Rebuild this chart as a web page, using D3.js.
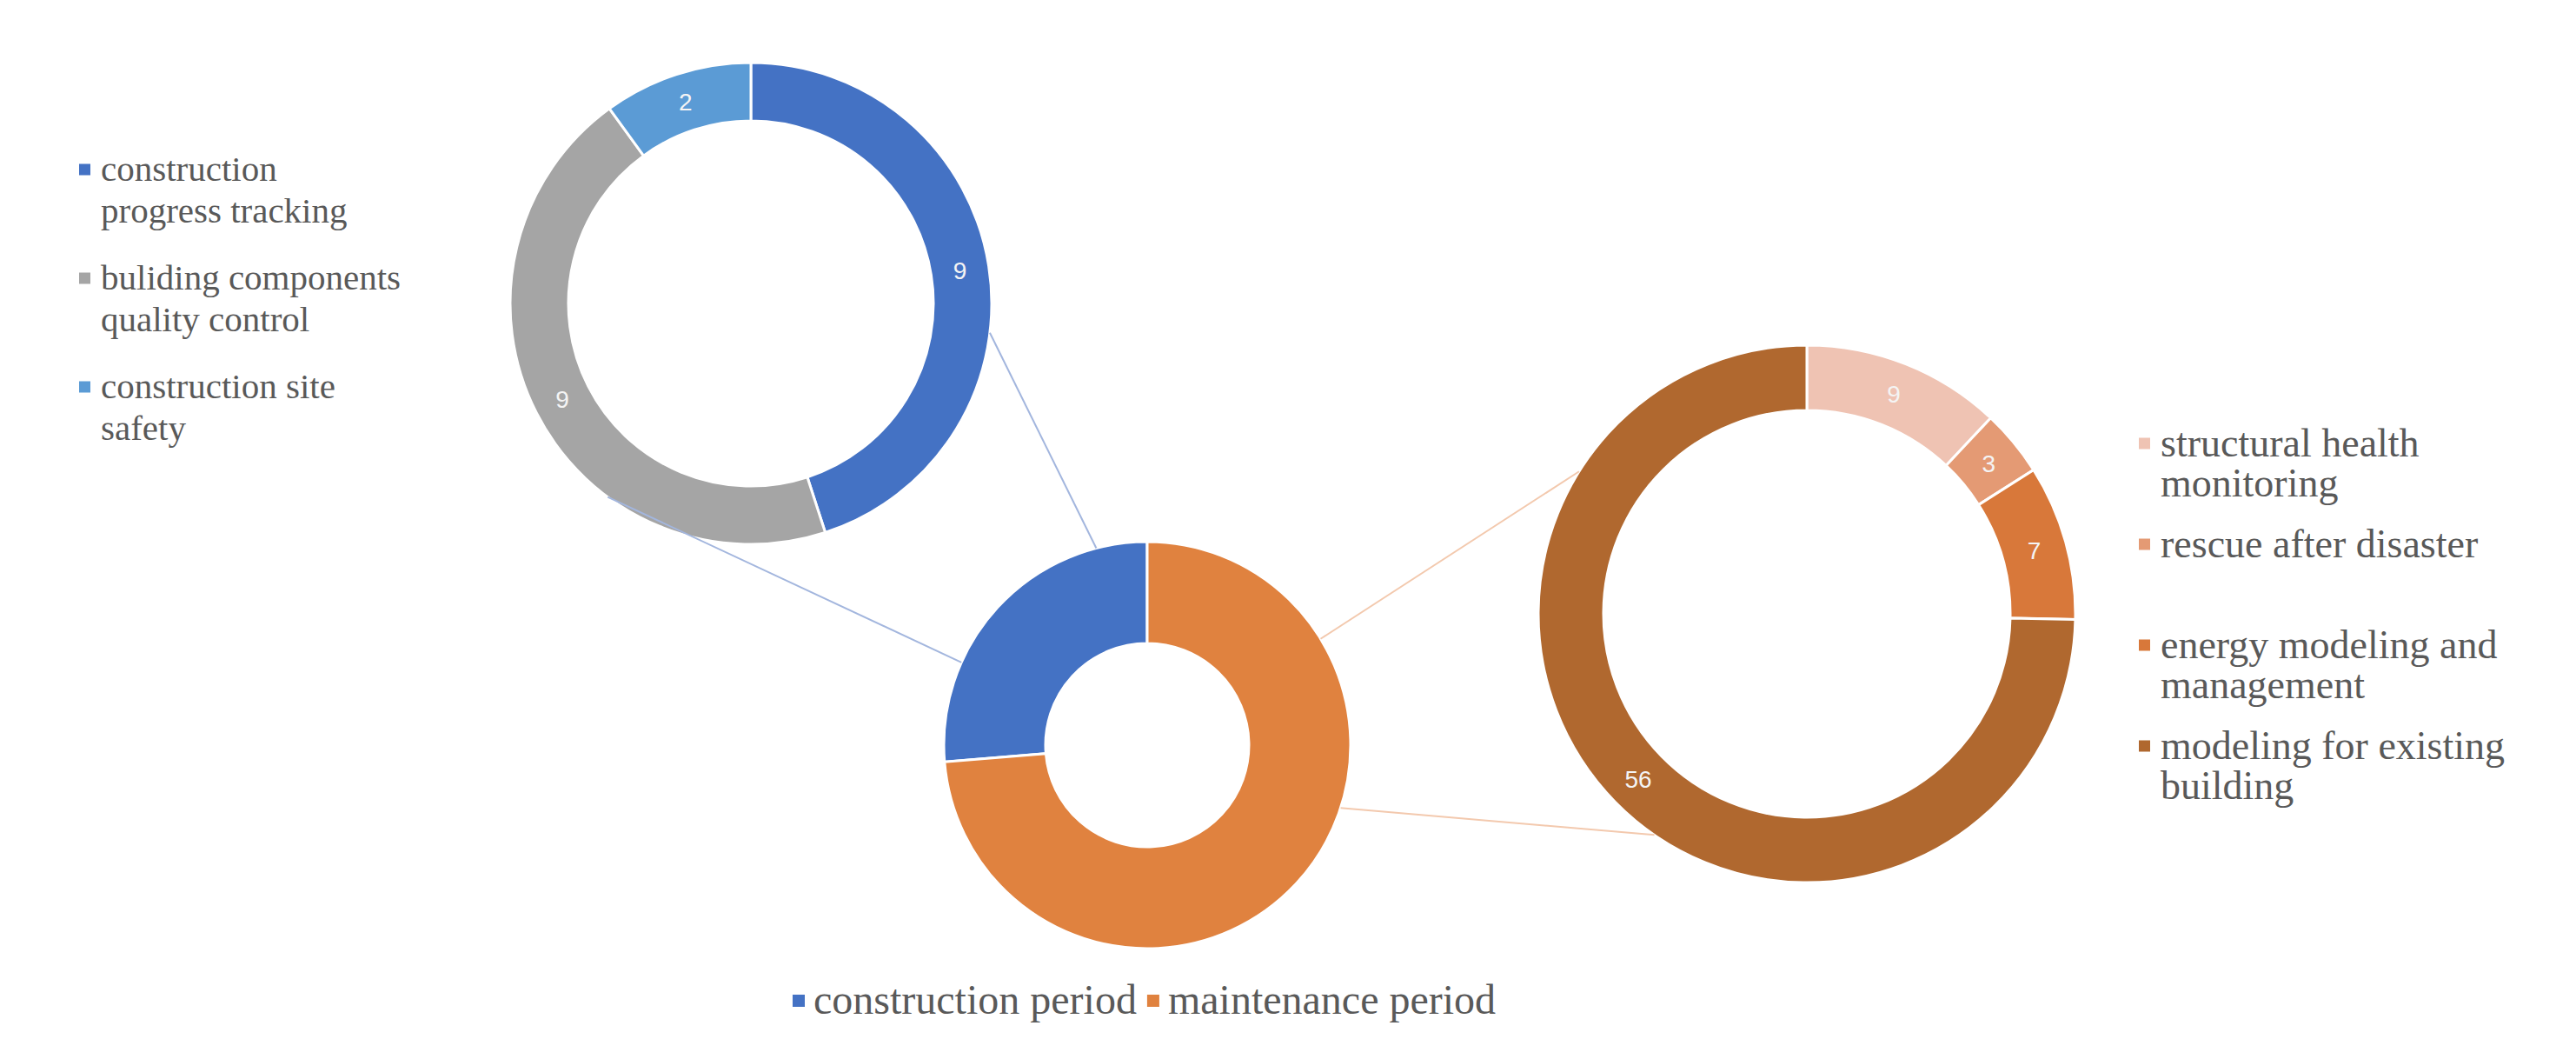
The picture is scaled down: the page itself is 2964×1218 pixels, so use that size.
<!doctype html>
<html lang="en">
<head>
<meta charset="utf-8" />
<title>Construction and maintenance period applications</title>
<style>
  html, body { margin: 0; padding: 0; background: #fff; }
  svg { display: block; }
  .legend text { font-family: "Liberation Serif", "DejaVu Serif", serif; fill: #595959; }
  .value { font-family: "Liberation Sans", "DejaVu Sans", sans-serif; fill: #f4f4f4; }
</style>
</head>
<body>
<script src="https://cdn.jsdelivr.net/npm/d3@7"></script>
<script>

// Data
var periods = ["construction period", "maintenance period"];
var periodValues = [20, 56];
var periodColors = ["#4472C4", "#E0823F"];

var constructionTasks = ["construction progress tracking", "buliding components quality control", "construction site safety"];
var constructionValues = [9, 9, 2];
var constructionColors = ["#4472C4", "#A5A5A5", "#5B9BD5"];

var maintenanceTasks = ["structural health monitoring", "rescue after disaster", "energy modeling and management", "modeling for existing building"];
var maintenanceValues = [9, 3, 7, 56];
var maintenanceColors = ["#EFC3B3", "#E49A74", "#D8783A", "#B0682F"];

// SVG Container
var width = 2964, height = 1218;
var svg = d3.select('body').append('svg')
  .attr('width', width)
  .attr('height', height);
svg.append('rect').attr('width', width).attr('height', height).attr('fill', '#fff');

// donut geometry
var rings = {
  top:   { cx: 864,  cy: 349, outer: 277, inner: 210 },
  mid:   { cx: 1320, cy: 857, outer: 234, inner: 117 },
  right: { cx: 2079, cy: 706, outer: 309, inner: 234 }
};

// connector lines, given as angles (degrees, clockwise from 12 o'clock) on each ring
var connectors = [
  { from: 'top', a0: 97,    to: 'mid',   a1: 345.5, color: '#A3B6DE' },
  { from: 'top', a0: 216.5, to: 'mid',   a1: 294,   color: '#A3B6DE' },
  { from: 'mid', a0: 58.5,  to: 'right', a1: 302,   color: '#F3C9AE' },
  { from: 'mid', a0: 108,   to: 'right', a1: 214.6, color: '#F3C9AE' }
];

function ringPoint(ring, deg) {
  var p = d3.pointRadial(deg * Math.PI / 180, ring.outer);
  return [ring.cx + p[0], ring.cy + p[1]];
}

function drawDonut(ring, values, colors, startAngle, showLabels) {
  var pie = d3.pie().sort(null).startAngle(startAngle).endAngle(startAngle + 2 * Math.PI);
  var arc = d3.arc().innerRadius(ring.inner).outerRadius(ring.outer);
  var labelArc = d3.arc()
    .innerRadius((ring.inner + ring.outer) / 2)
    .outerRadius((ring.inner + ring.outer) / 2);

  var g = svg.append('g').attr('transform', 'translate(' + ring.cx + ',' + ring.cy + ')');
  var arcs = pie(values);

  g.selectAll('path')
    .data(arcs)
    .enter()
    .append('path')
    .attr('d', arc)
    .attr('fill', function (d, i) { return colors[i]; })
    .attr('stroke', '#fff')
    .attr('stroke-width', 3);

  if (showLabels) {
    g.selectAll('text')
      .data(arcs)
      .enter()
      .append('text')
      .attr('class', 'value')
      .attr('transform', function (d) { return 'translate(' + labelArc.centroid(d) + ')'; })
      .attr('text-anchor', 'middle')
      .attr('dy', '0.35em')
      .attr('font-size', 28)
      .text(function (d) { return d.data; });
  }
}

drawDonut(rings.top, constructionValues, constructionColors, 0, true);
drawDonut(rings.right, maintenanceValues, maintenanceColors, 0, true);
// construction slice ends at 12 o'clock, maintenance runs clockwise from there
var constructionShare = periodValues[0] / d3.sum(periodValues);
drawDonut(rings.mid, periodValues, periodColors, -constructionShare * 2 * Math.PI, false);

// connectors on top of the rings
svg.append('g').selectAll('line')
  .data(connectors)
  .enter()
  .append('line')
  .attr('x1', function (d) { return ringPoint(rings[d.from], d.a0)[0]; })
  .attr('y1', function (d) { return ringPoint(rings[d.from], d.a0)[1]; })
  .attr('x2', function (d) { return ringPoint(rings[d.to], d.a1)[0]; })
  .attr('y2', function (d) { return ringPoint(rings[d.to], d.a1)[1]; })
  .attr('stroke', function (d) { return d.color; })
  .attr('stroke-width', 2);

// wrap a label into lines no wider than maxWidth
function wrapLines(text, fontSize, maxWidth) {
  var probe = svg.append('text').attr('font-family', '"Liberation Serif", serif').attr('font-size', fontSize);
  var words = text.split(' '), lines = [], line = '';
  words.forEach(function (w) {
    var test = line ? line + ' ' + w : w;
    probe.text(test);
    if (line && probe.node().getComputedTextLength() > maxWidth) {
      lines.push(line);
      line = w;
    } else {
      line = test;
    }
  });
  lines.push(line);
  probe.remove();
  return lines;
}

function drawSideLegend(names, colors, opts) {
  var g = svg.append('g').attr('class', 'legend');
  names.forEach(function (name, i) {
    var y0 = opts.y + i * opts.pitch;
    g.append('rect')
      .attr('x', opts.x)
      .attr('y', y0 - opts.box / 2)
      .attr('width', opts.box)
      .attr('height', opts.box)
      .attr('fill', colors[i]);
    var t = g.append('text')
      .attr('x', opts.x + opts.box + 12)
      .attr('y', y0)
      .attr('font-size', opts.fontSize);
    wrapLines(name, opts.fontSize, opts.maxWidth).forEach(function (line, j) {
      t.append('tspan')
        .attr('x', opts.x + opts.box + 12)
        .attr('dy', j === 0 ? '0.32em' : opts.lineHeight)
        .text(line);
    });
  });
}

drawSideLegend(constructionTasks, constructionColors,
  { x: 91, y: 195, pitch: 125, box: 13, fontSize: 41, lineHeight: 48, maxWidth: 348 });
drawSideLegend(maintenanceTasks, maintenanceColors,
  { x: 2461, y: 510, pitch: 116, box: 13, fontSize: 46, lineHeight: 46, maxWidth: 420 });

// bottom legend
var bottom = svg.append('g').attr('class', 'legend');
var bx = 912;
periods.forEach(function (name, i) {
  bottom.append('rect')
    .attr('x', bx)
    .attr('y', 1151 - 7)
    .attr('width', 14)
    .attr('height', 14)
    .attr('fill', periodColors[i]);
  var t = bottom.append('text')
    .attr('x', bx + 24)
    .attr('y', 1151)
    .attr('dy', '0.32em')
    .attr('font-size', 48)
    .text(name);
  bx += 24 + t.node().getComputedTextLength() + 12;
});

</script>
</body>
</html>
